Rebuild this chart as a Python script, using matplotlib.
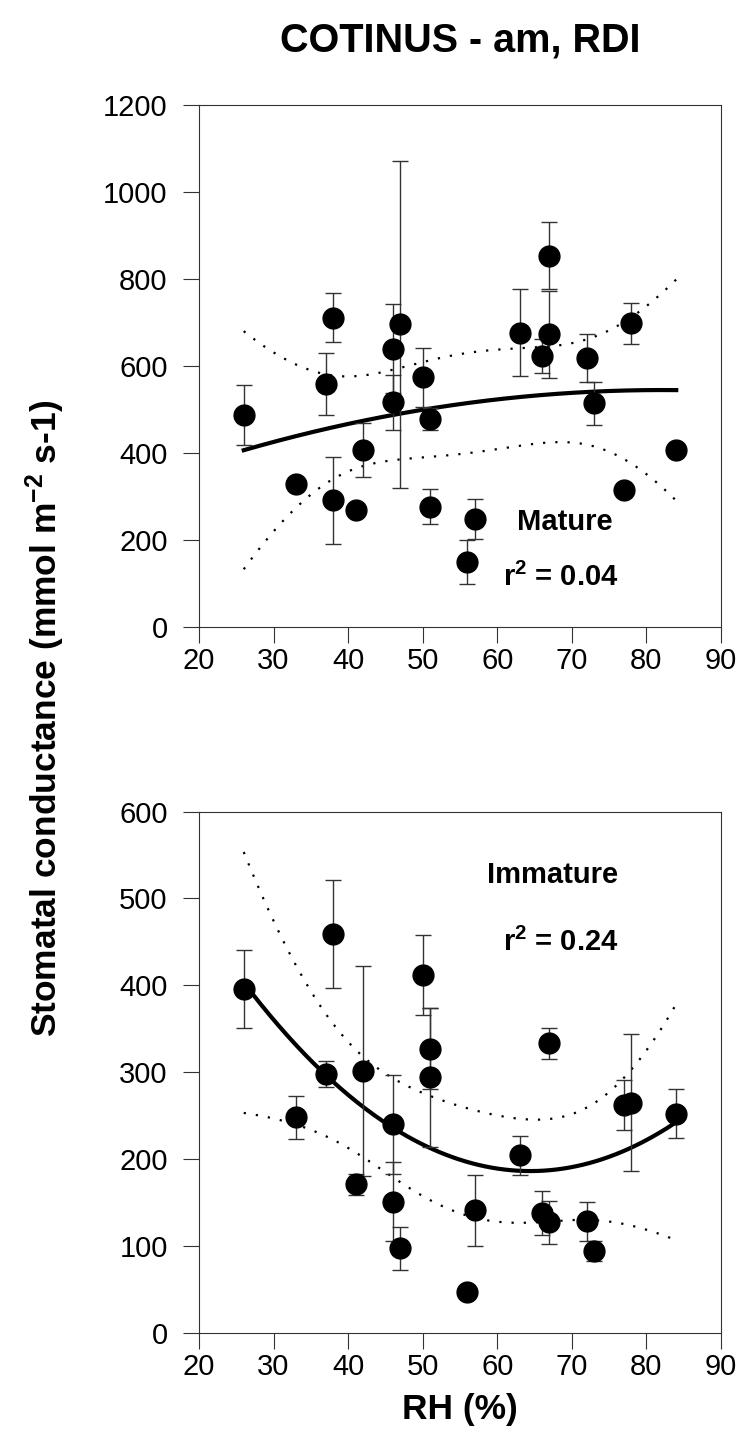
import numpy as np
import matplotlib.pyplot as plt

plt.rcParams['font.family'] = 'Liberation Sans'
plt.rcParams['mathtext.fontset'] = 'custom'
plt.rcParams['mathtext.rm'] = 'Liberation Sans:bold'
plt.rcParams['mathtext.default'] = 'rm'

# mature leaves: RH (%), stomatal conductance, error
rh_mat = [26, 33, 37, 38, 38, 41, 42, 46, 46, 47, 50, 51, 51, 56, 57, 63, 66, 67, 67, 72, 73, 77, 78, 84]
gs_mat = [487, 328, 558, 711, 291, 269, 406, 640, 517, 696, 574, 479, 277, 150, 248, 677, 623, 853, 673, 619, 514, 315, 698, 407]
err_mat = [69, 0, 71, 56, 100, 0, 62, 102, 63, 376, 68, 25, 41, 51, 46, 100, 38, 77, 100, 55, 49, 0, 48, 0]

# immature leaves
rh_imm = [26, 33, 37, 38, 41, 42, 46, 46, 47, 50, 51, 51, 56, 57, 63, 66, 67, 67, 72, 73, 77, 78, 84]
gs_imm = [396, 248, 298, 459, 171, 301, 240, 151, 97, 412, 327, 294, 47, 141, 204, 138, 333, 127, 128, 94, 262, 265, 252]
err_imm = [45, 25, 15, 62, 12, 121, 57, 45, 25, 46, 47, 80, 0, 41, 23, 25, 18, 25, 22, 12, 29, 79, 28]


def quad_fit(x, y, t=2.08):
    # 2nd order regression with 95% confidence band of the mean
    x = np.asarray(x, float)
    y = np.asarray(y, float)
    X = np.column_stack([x ** 2, x, np.ones_like(x)])
    coef = np.linalg.lstsq(X, y, rcond=None)[0]
    resid = y - X @ coef
    s2 = np.sum(resid ** 2) / (len(x) - 3)
    cov = s2 * np.linalg.inv(X.T @ X)
    xs = np.linspace(x.min(), x.max(), 200)
    Xs = np.column_stack([xs ** 2, xs, np.ones_like(xs)])
    ys = Xs @ coef
    se = np.sqrt(np.einsum('ij,jk,ik->i', Xs, cov, Xs))
    return xs, ys, ys - t * se, ys + t * se


def panel(ax, x, y, e, ymax, ystep):
    xs, ys, lo, hi = quad_fit(x, y)
    ax.plot(xs, ys, color='black', lw=3, zorder=2)
    for band in (lo, hi):
        ax.plot(xs, band, color='black', lw=1.6, ls=(0, (1, 4.5)), zorder=2)
    ax.errorbar(x, y, yerr=e, fmt='none', ecolor='#333333', elinewidth=1,
                capsize=6, capthick=1, zorder=3)
    ax.plot(x, y, 'o', ms=15, color='black', zorder=4)
    ax.set_xlim(20, 90)
    ax.set_ylim(0, ymax)
    ax.set_xticks(range(20, 91, 10))
    ax.set_yticks(range(0, ymax + 1, ystep))
    ax.tick_params(direction='out', length=11.5, width=0.8, color='#333333',
                   labelsize=21)
    ax.tick_params(axis='y', pad=11)
    ax.tick_params(axis='x', pad=3)
    for sp in ax.spines.values():
        sp.set_linewidth(0.8)
        sp.set_color('#333333')


fig = plt.figure(figsize=(7.4, 14.49), dpi=100)
ax1 = fig.add_axes([0.2689, 0.5673, 0.7054, 0.3602])
ax2 = fig.add_axes([0.2689, 0.0803, 0.7054, 0.3596])

panel(ax1, rh_mat, gs_mat, err_mat, 1200, 200)
panel(ax2, rh_imm, gs_imm, err_imm, 600, 100)

ax1.text(69.1, 241, 'Mature', fontsize=21, fontweight='bold', ha='center', va='center')
ax1.text(68.5, 115, 'r$^2$ = 0.04', fontsize=21, fontweight='bold', ha='center', va='center')
ax2.text(67.4, 527, 'Immature', fontsize=21, fontweight='bold', ha='center', va='center')
ax2.text(68.5, 449, 'r$^2$ = 0.24', fontsize=21, fontweight='bold', ha='center', va='center')

fig.text(0.6216, 1 - 40 / 1449, 'COTINUS - am, RDI', fontsize=28.5, fontweight='bold',
         ha='center', va='center')
fig.text(45 / 740, 0.5045, 'Stomatal conductance (mmol m$^{-2}$ s-1)', fontsize=25.5,
         fontweight='bold', rotation=90, ha='center', va='center')
fig.text(0.6216, 1 - 1410 / 1449, 'RH (%)', fontsize=25.5, fontweight='bold',
         ha='center', va='center')

fig.savefig('out.png', dpi=100)
